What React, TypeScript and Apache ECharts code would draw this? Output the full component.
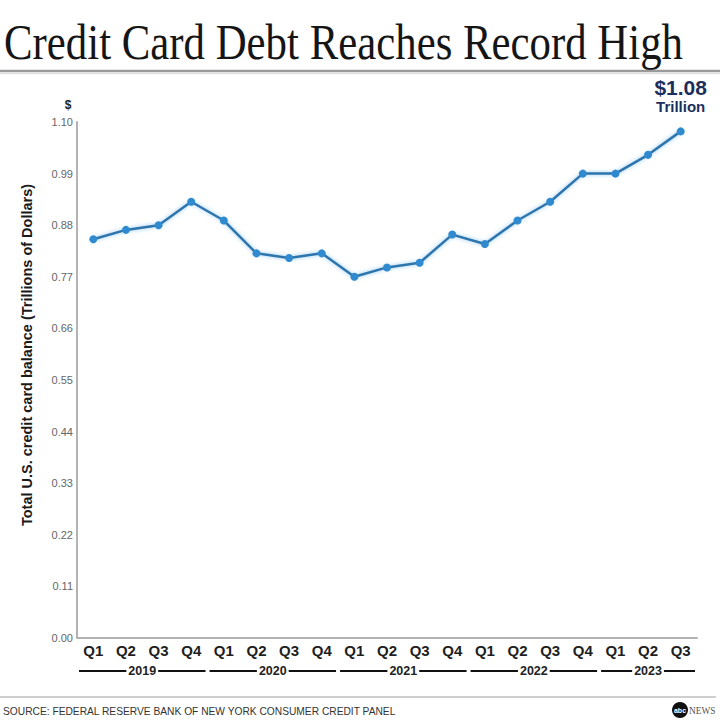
import { useEffect, useRef } from 'react';
import * as echarts from 'echarts';

// quarterly total U.S. credit card balance, trillions of dollars
const quarters = ['Q1', 'Q2', 'Q3', 'Q4', 'Q1', 'Q2', 'Q3', 'Q4', 'Q1', 'Q2', 'Q3', 'Q4', 'Q1', 'Q2', 'Q3', 'Q4', 'Q1', 'Q2', 'Q3'];
const quarterYears = [
  '2019', '2019', '2019', '2019',
  '2020', '2020', '2020', '2020',
  '2021', '2021', '2021', '2021',
  '2022', '2022', '2022', '2022',
  '2023', '2023', '2023'
];
const balance = [0.85, 0.87, 0.88, 0.93, 0.89, 0.82, 0.81, 0.82, 0.77, 0.79, 0.80, 0.86, 0.84, 0.89, 0.93, 0.99, 0.99, 1.03, 1.08];

const yMin = 0;
const yMax = 1.1;
const yStep = 0.11;

const TITLE = 'Credit Card Debt Reaches Record High';
const Y_NAME = 'Total U.S. credit card balance (Trillions of Dollars)';
const SOURCE = 'SOURCE: FEDERAL RESERVE BANK OF NEW YORK CONSUMER CREDIT PANEL';

const NAVY = '#1c2f5c';
const SANS = '"Liberation Sans", Arial, sans-serif';

export default function App() {
  const chartRef = useRef<HTMLDivElement>(null);

  useEffect(() => {
    if (!chartRef.current) return;
    const chart = echarts.init(chartRef.current, null, { renderer: 'svg' });
    const last = balance.length - 1;

    const option: echarts.EChartsOption = {
      animation: false,
      backgroundColor: '#fff',
      grid: { left: 77, right: 23, top: 122, bottom: 82 },
      xAxis: {
        type: 'category',
        data: quarters,
        boundaryGap: true,
        axisLine: { lineStyle: { color: '#b3b3b3', width: 2 } },
        axisTick: { show: false },
        axisLabel: {
          interval: 0,
          margin: 5,
          fontFamily: SANS,
          fontSize: 15,
          fontWeight: 'bold',
          color: '#1e1e1e'
        }
      },
      yAxis: {
        type: 'value',
        min: yMin,
        max: yMax,
        interval: yStep,
        axisLine: { show: true, lineStyle: { color: '#b3b3b3', width: 2 } },
        axisTick: { show: false },
        splitLine: { show: false },
        axisLabel: {
          margin: 4,
          fontFamily: SANS,
          fontSize: 11,
          color: '#666',
          formatter: (v: number) => v.toFixed(2)
        }
      },
      series: [
        {
          type: 'line',
          data: balance.map((v, i) =>
            i === last
              ? {
                  value: v,
                  label: {
                    show: true,
                    position: 'top',
                    distance: 12,
                    formatter: () => `{a|$${v.toFixed(2)}}\n{b|Trillion}`,
                    rich: {
                      a: { fontFamily: SANS, fontSize: 21, fontWeight: 'bold', color: NAVY, lineHeight: 21, align: 'center' },
                      b: { fontFamily: SANS, fontSize: 15, fontWeight: 'bold', color: NAVY, lineHeight: 17, align: 'center' }
                    }
                  }
                }
              : v
          ),
          symbol: 'circle',
          symbolSize: 8,
          lineStyle: {
            color: '#2f74ad',
            width: 2.5,
            shadowColor: 'rgba(90,175,235,0.7)',
            shadowBlur: 4
          },
          itemStyle: { color: '#2f8ad0' }
        }
      ]
    };

    chart.setOption(option);

    // year brackets under the quarter labels, placed from the category axis
    const p0 = chart.convertToPixel({ xAxisIndex: 0 }, 0) as number;
    const p1 = chart.convertToPixel({ xAxisIndex: 0 }, 1) as number;
    const half = (p1 - p0) / 2;
    const groups: { year: string; start: number; end: number }[] = [];
    quarterYears.forEach((y, i) => {
      const g = groups[groups.length - 1];
      if (g && g.year === y) g.end = i;
      else groups.push({ year: y, start: i, end: i });
    });
    const yearRowY = 671;
    const yearEls: any[] = [];
    groups.forEach((g) => {
      const xa = (chart.convertToPixel({ xAxisIndex: 0 }, g.start) as number) - half + 2;
      const xb = (chart.convertToPixel({ xAxisIndex: 0 }, g.end) as number) + half - 2;
      yearEls.push({
        type: 'line',
        z: 10,
        shape: { x1: xa, y1: yearRowY, x2: xb, y2: yearRowY },
        style: { stroke: '#111', lineWidth: 2 }
      });
      yearEls.push({
        type: 'text',
        z: 11,
        x: (xa + xb) / 2,
        y: yearRowY,
        style: {
          text: g.year,
          fontFamily: SANS,
          fontSize: 12.5,
          fontWeight: 'bold',
          fill: '#222',
          align: 'center',
          verticalAlign: 'middle',
          backgroundColor: '#fff',
          padding: [0, 2]
        }
      });
    });

    chart.setOption({
      graphic: [
        {
          type: 'text',
          x: 4,
          y: 42,
          scaleX: 0.84,
          style: {
            text: TITLE,
            fontFamily: '"Liberation Serif", "Times New Roman", serif',
            fontSize: 51,
            fill: '#151515',
            align: 'left',
            verticalAlign: 'middle'
          }
        },
        {
          type: 'line',
          shape: { x1: 0, y1: 71, x2: 720, y2: 71 },
          style: { stroke: '#9a9a9a', lineWidth: 2.5 }
        },
        {
          type: 'line',
          shape: { x1: 0, y1: 73.5, x2: 720, y2: 73.5 },
          style: { stroke: '#e0e0e0', lineWidth: 1.5 }
        },
        {
          type: 'text',
          x: 68,
          y: 105,
          style: {
            text: '$',
            fontFamily: SANS,
            fontSize: 12,
            fontWeight: 'bold',
            fill: '#222',
            align: 'center',
            verticalAlign: 'middle'
          }
        },
        {
          type: 'text',
          x: 27,
          y: 355,
          rotation: Math.PI / 2,
          style: {
            text: Y_NAME,
            fontFamily: SANS,
            fontSize: 14.5,
            fontWeight: 'bold',
            fill: '#1a1a1a',
            align: 'center',
            verticalAlign: 'middle'
          }
        },
        ...yearEls,
        {
          type: 'line',
          shape: { x1: 0, y1: 697, x2: 716, y2: 697 },
          style: { stroke: '#cfcfcf', lineWidth: 2 }
        },
        {
          type: 'text',
          x: 3,
          y: 711,
          scaleX: 0.93,
          style: {
            text: SOURCE,
            fontFamily: SANS,
            fontSize: 11,
            fill: '#333',
            align: 'left',
            verticalAlign: 'middle'
          }
        },
        {
          type: 'circle',
          shape: { cx: 680, cy: 710, r: 8 },
          style: { fill: '#111' }
        },
        {
          type: 'text',
          x: 680,
          y: 710,
          style: {
            text: 'abc',
            fontFamily: SANS,
            fontSize: 7,
            fontWeight: 'bold',
            fill: '#fff',
            align: 'center',
            verticalAlign: 'middle'
          }
        },
        {
          type: 'text',
          x: 689,
          y: 710,
          scaleX: 0.85,
          style: {
            text: 'NEWS',
            fontFamily: '"Liberation Serif", serif',
            fontSize: 11,
            fill: '#555',
            align: 'left',
            verticalAlign: 'middle'
          }
        }
      ]
    });

    return () => {
      chart.dispose();
    };
  }, []);

  return (
    <div
      ref={chartRef}
      style={{ position: 'fixed', left: 0, top: 0, width: 720, height: 720, background: '#fff' }}
    />
  );
}
